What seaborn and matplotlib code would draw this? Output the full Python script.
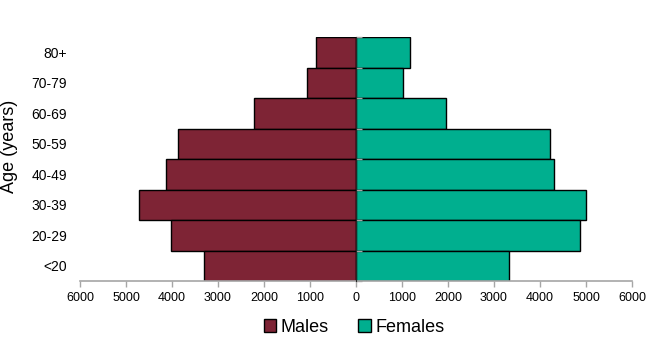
import matplotlib
matplotlib.use("Agg")
import matplotlib.pyplot as plt
import seaborn as sns
import numpy as np
import pandas as pd
from matplotlib.patches import Patch

ages = ["80+", "70-79", "60-69", "50-59", "40-49", "30-39", "20-29", "<20"]
males = [860, 1075, 2215, 3860, 4135, 4710, 4025, 3315]
females = [1180, 1030, 1965, 4215, 4300, 5000, 4870, 3320]
xticks = [-6000, -5000, -4000, -3000, -2000, -1000, 0, 1000, 2000, 3000, 4000, 5000, 6000]

male_color = "#7E2435"
female_color = "#00AF8F"

df = pd.DataFrame({
    "age": ages * 2,
    "value": [-m for m in males] + females,
    "sex": ["Males"] * len(ages) + ["Females"] * len(ages),
})

sns.set_style("white")
plt.rcParams["font.family"] = ["Liberation Sans", "DejaVu Sans"]
plt.rcParams["text.color"] = "black"
plt.rcParams["xtick.labelcolor"] = "black"
plt.rcParams["ytick.labelcolor"] = "black"

fig = plt.figure(figsize=(6.51, 3.44), dpi=100)
ax = fig.add_axes([80 / 651, 1 - 281 / 344, (632 - 80) / 651, (281 - 37) / 344])

sns.barplot(data=df, y="age", x="value", hue="sex", order=ages,
            hue_order=["Males", "Females"], dodge=False, width=1.0,
            palette={"Males": male_color, "Females": female_color},
            saturation=1.0,
            edgecolor="black", linewidth=1.0, legend=False, ax=ax, orient="h")

ax.set_xlim(-6000, 6000)
ax.set_ylim(len(ages) - 0.5, -0.5)
ax.set_xticks(xticks)
ax.set_xticklabels([str(abs(v)) for v in xticks], fontsize=9)
ax.set_yticks(range(len(ages)))
ax.set_yticklabels(ages, fontsize=10)
ax.tick_params(axis="y", length=0, pad=9.5)
ax.tick_params(axis="x", length=4, width=1, color="#A6A6A6", direction="out", pad=4)
ax.xaxis.set_ticks_position("bottom")
for s in ["top", "right", "left"]:
    ax.spines[s].set_visible(False)
ax.spines["bottom"].set_color("#A6A6A6")
ax.spines["bottom"].set_linewidth(1.2)
ax.set_xlabel("")
ax.set_ylabel("")

# central vertical axis with boundary ticks
sec = ax.secondary_yaxis(0.5)
sec.set_zorder(10)
sec.set_yticks(np.arange(len(ages) + 1) - 0.5)
sec.set_yticklabels([])
sec.tick_params(length=4, width=1, color="#A6A6A6")
sec.spines["left"].set_color("#9A9A9A")
sec.spines["left"].set_linewidth(2.0)

fig.text(10 / 651, 1 - 146 / 344, "Age (years)", rotation=90, fontsize=13,
         ha="center", va="center")

handles = [Patch(facecolor=male_color, edgecolor="black", linewidth=1.0, label="Males"),
           Patch(facecolor=female_color, edgecolor="black", linewidth=1.0, label="Females")]
fig.legend(handles=handles, loc="center", bbox_to_anchor=(354 / 651, 1 - 327 / 344),
           ncol=2, frameon=False, fontsize=13, handlelength=0.7, handleheight=0.7,
           handletextpad=0.25, columnspacing=1.6, borderaxespad=0)

fig.savefig("out.png", dpi=100)
